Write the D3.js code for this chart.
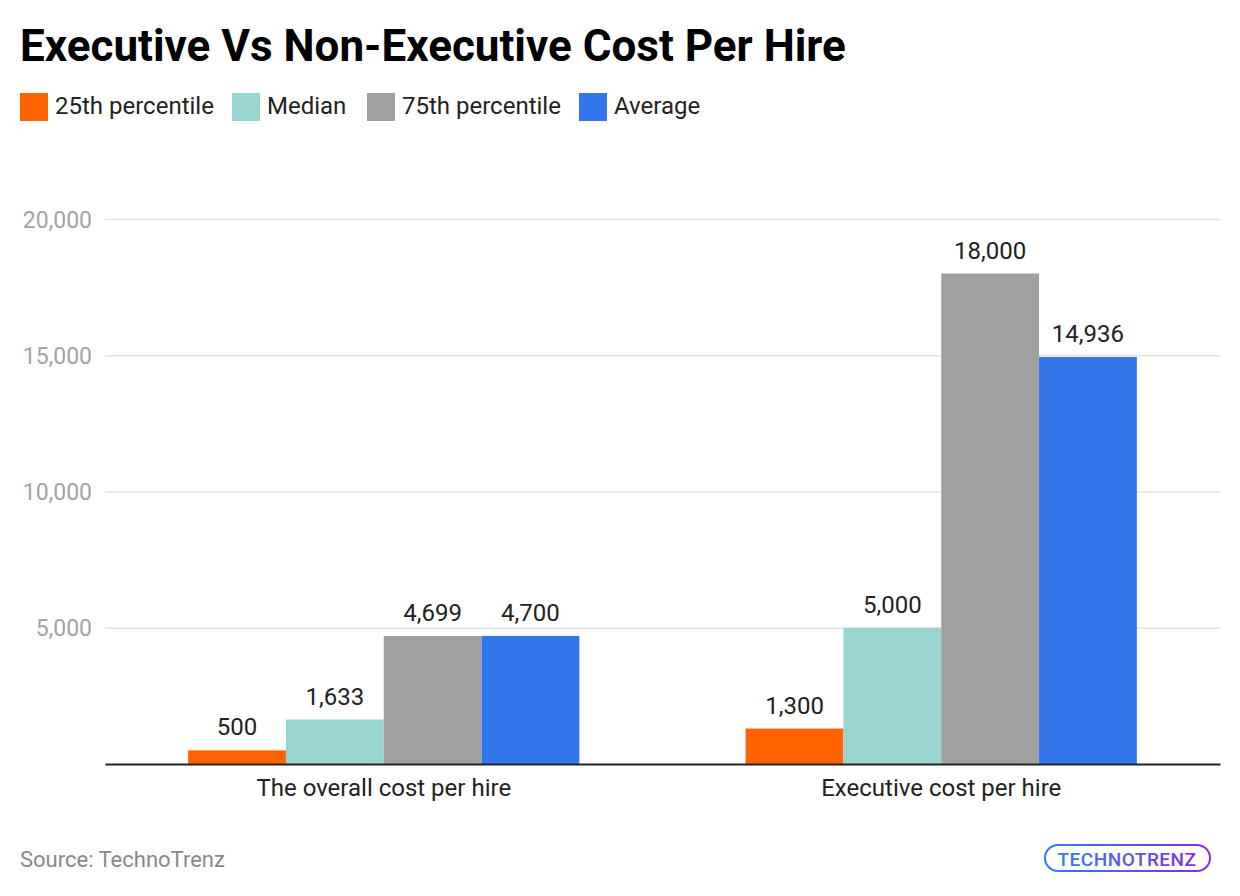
<!DOCTYPE html>
<html><head><meta charset="utf-8">
<script src="https://cdn.jsdelivr.net/npm/d3@7"></script>
<style>body{margin:0;background:#fff;} svg{display:block;font-family:Roboto,sans-serif;}</style>
</head><body>
<svg id="c" width="1240" height="896"></svg>
<script>
const categories = ["The overall cost per hire", "Executive cost per hire"];
const seriesNames = ["25th percentile", "Median", "75th percentile", "Average"];
const seriesColors = ["#FF6200", "#98D5D0", "#A0A0A0", "#3375EA"];
const p25 = [500, 1300];
const median = [1633, 5000];
const p75 = [4699, 18000];
const average = [4700, 14936];
const yTicks = [5000, 10000, 15000, 20000];
const seriesValues = [p25, median, p75, average];

const svg = d3.select("#c");
const L = 105, R = 1220, T = 219, B = 764;
const x0 = d3.scaleBand().domain(categories).range([L, R]).padding(0);
const x1 = d3.scaleBand().domain(seriesNames).range([0, x0.bandwidth()]).paddingInner(0).paddingOuter(0.85);
const y = d3.scaleLinear().domain([0, 20000]).range([B, T]);

// title
svg.append("text").attr("x", 20).attr("y", 61).attr("font-size", 44).attr("font-weight", 700)
  .attr("fill", "#000").text("Executive Vs Non-Executive Cost Per Hire");

// legend
const legX = [20, 232, 367, 579];
seriesNames.forEach((s, i) => {
  svg.append("rect").attr("x", legX[i]).attr("y", 93).attr("width", 28).attr("height", 28).attr("fill", seriesColors[i]);
  svg.append("text").attr("x", legX[i] + 35).attr("y", 114).attr("font-size", 24).attr("fill", "#222").text(s);
});

// grid + y axis
const yAxis = d3.axisLeft(y).tickValues(yTicks).tickSize(-(R - L)).tickFormat(d3.format(","));
const gy = svg.append("g").attr("transform", `translate(${L},0)`).call(yAxis);
gy.select(".domain").remove();
gy.selectAll(".tick line").attr("stroke", "#e3e3e3").attr("stroke-width", 1.5);
gy.selectAll(".tick text").attr("x", -13).attr("dy", "0.35em").attr("font-size", 23).attr("fill", "#a3a3a3").attr("font-family", "Roboto,sans-serif");

// bars
categories.forEach((c, ci) => {
  seriesNames.forEach((s, si) => {
    const v = seriesValues[si][ci];
    const bx = x0(c) + x1(s);
    svg.append("rect").attr("x", bx).attr("y", y(v)).attr("width", x1.bandwidth()).attr("height", B - y(v)).attr("fill", seriesColors[si]);
    svg.append("text").attr("x", bx + x1.bandwidth() / 2).attr("y", y(v) - 15).attr("text-anchor", "middle")
      .attr("font-size", 24).attr("fill", "#222").text(d3.format(",")(v));
  });
});

// x axis
const xAxis = d3.axisBottom(x0).tickSize(0);
const gx = svg.append("g").attr("transform", `translate(0,${B})`).call(xAxis);
gx.select(".domain").attr("stroke", "#222").attr("stroke-width", 2);
gx.selectAll(".tick text").attr("dy", 0).attr("y", 32).attr("font-size", 24).attr("fill", "#222").attr("font-family", "Roboto,sans-serif");

// source
svg.append("text").attr("x", 20).attr("y", 867).attr("font-size", 22).attr("fill", "#888").text("Source: TechnoTrenz");

// logo
const defs = svg.append("defs");
const grad = defs.append("linearGradient").attr("id", "lg").attr("x1", "0").attr("x2", "1");
grad.append("stop").attr("offset", "0").attr("stop-color", "#2f7df0");
grad.append("stop").attr("offset", "1").attr("stop-color", "#8a2be2");
const lg = svg.append("g");
lg.append("rect").attr("x", 1045).attr("y", 845).attr("width", 165).attr("height", 26).attr("rx", 13)
  .attr("fill", "none").attr("stroke", "url(#lg)").attr("stroke-width", 2);
lg.append("text").attr("x", 1127).attr("y", 866).attr("text-anchor", "middle").attr("font-size", 19)
  .attr("font-weight", 500).attr("fill", "url(#lg)").attr("letter-spacing", 0.5).text("TECHNOTRENZ");
</script>
</body></html>
